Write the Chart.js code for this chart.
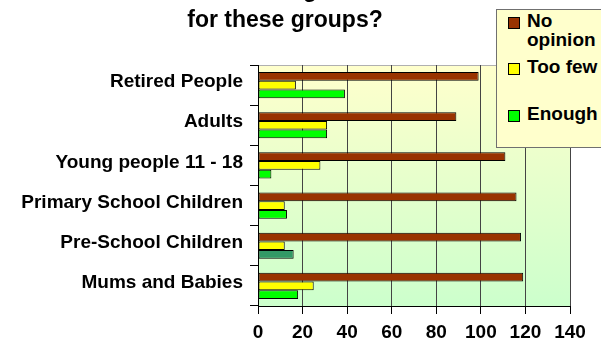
<!DOCTYPE html>
<html>
<head>
<meta charset="utf-8">
<script src="https://cdn.jsdelivr.net/npm/chart.js@4"></script>
<style>
    html, body { margin: 0; padding: 0; background: #fff; }
    #wrap { position: relative; width: 601px; height: 341px; overflow: hidden; }
    #holder { position: absolute; left: 0; top: -30px; width: 601px; height: 371px; }
    #legend {
        position: absolute; left: 496px; top: 9px; width: 140px; height: 137px;
        background: #ffffcc; border: 1px solid #707070;
        font: bold 19px "Liberation Sans", Arial, sans-serif; color: #000;
    }
    .item { position: absolute; left: 11px; }
    .swatch { position: absolute; left: 0; top: 0; width: 10px; height: 10px; border: 1px solid #000; }
    .label { position: absolute; left: 19px; top: -6px; width: 76px; line-height: 19px; }
</style>
</head>
<body>
<div id="wrap">
    <div id="holder"><canvas id="chart"></canvas></div>
    <div id="legend"></div>
</div>
<script>
const titleLines = ['Are there enough facilities', 'for these groups?'];
const categories = ['Retired People', 'Adults', 'Young people 11 - 18', 'Primary School Children', 'Pre-School Children', 'Mums and Babies'];
const seriesNames = ['No opinion', 'Too few', 'Enough'];
const noOpinion = [99, 89, 111, 116, 118, 119];
const tooFew = [17, 31, 28, 12, 12, 25];
const enough = [39, 31, 6, 13, 16, 18];
const xTicks = [0, 20, 40, 60, 80, 100, 120, 140];

const colors = ['#993300', '#ffff00', '#00ff00'];
// one bar in the original is drawn in a darker green
const enoughColors = enough.map((v, i) => i === 4 ? '#339966' : colors[2]);

const font = { family: '"Liberation Sans", Arial, sans-serif', weight: 'bold', size: 19 };

// plot background: yellow fading to green, light grey top edge
const plotBackground = {
    id: 'plotBackground',
    beforeDraw(chart) {
        const { ctx, chartArea: a } = chart;
        const g = ctx.createLinearGradient(0, a.top, 0, a.bottom);
        g.addColorStop(0, '#ffffcc');
        g.addColorStop(1, '#ccffcc');
        ctx.save();
        ctx.fillStyle = g;
        ctx.fillRect(a.left, a.top, a.right - a.left, a.bottom - a.top);
        ctx.strokeStyle = '#b0b0b0';
        ctx.lineWidth = 1;
        ctx.beginPath();
        ctx.moveTo(a.left, a.top + 0.5);
        ctx.lineTo(a.right, a.top + 0.5);
        ctx.stroke();
        ctx.restore();
    }
};

const chart = new Chart(document.getElementById('chart'), {
    type: 'bar',
    data: {
        labels: categories,
        datasets: [
            { label: seriesNames[0], data: noOpinion, backgroundColor: colors[0] },
            { label: seriesNames[1], data: tooFew, backgroundColor: colors[1] },
            { label: seriesNames[2], data: enough, backgroundColor: enoughColors }
        ]
    },
    options: {
        indexAxis: 'y',
        responsive: true,
        maintainAspectRatio: false,
        animation: false,
        layout: { padding: { left: 0, right: 31, top: 0, bottom: 0 } },
        datasets: {
            bar: {
                categoryPercentage: 0.65,
                barPercentage: 1.0,
                borderColor: '#000',
                borderWidth: 1,
                borderSkipped: false
            }
        },
        plugins: {
            legend: { display: false },
            tooltip: { enabled: false },
            title: {
                display: true,
                text: titleLines,
                color: '#000',
                font: { family: font.family, weight: 'bold', size: 23, lineHeight: 30 / 23 },
                padding: { top: 6, bottom: 29 }
            }
        },
        scales: {
            x: {
                min: 0,
                max: 140,
                afterBuildTicks: (scale) => { scale.ticks = xTicks.map(v => ({ value: v })); },
                afterFit: (scale) => { scale.height = 35; },
                ticks: { color: '#000', font: font, padding: 7 },
                grid: { color: '#444', tickColor: '#000', tickLength: 8, lineWidth: 1 },
                border: { color: '#000' }
            },
            y: {
                afterFit: (scale) => { scale.width = 258; },
                ticks: { color: '#000', font: font, padding: 7, labelOffset: -3 },
                grid: { drawOnChartArea: false, tickColor: '#000', tickLength: 8, offset: true },
                border: { color: '#000' }
            }
        }
    },
    plugins: [plotBackground]
});

// legend as html so it can float over the plot like the original
const legend = document.getElementById('legend');
const itemTops = [7, 53, 100];
seriesNames.forEach((name, i) => {
    const item = document.createElement('div');
    item.className = 'item';
    item.style.top = itemTops[i] + 'px';
    item.innerHTML = `<div class="swatch" style="background:${colors[i]}"></div><div class="label">${name}</div>`;
    legend.appendChild(item);
});
</script>
</body>
</html>
